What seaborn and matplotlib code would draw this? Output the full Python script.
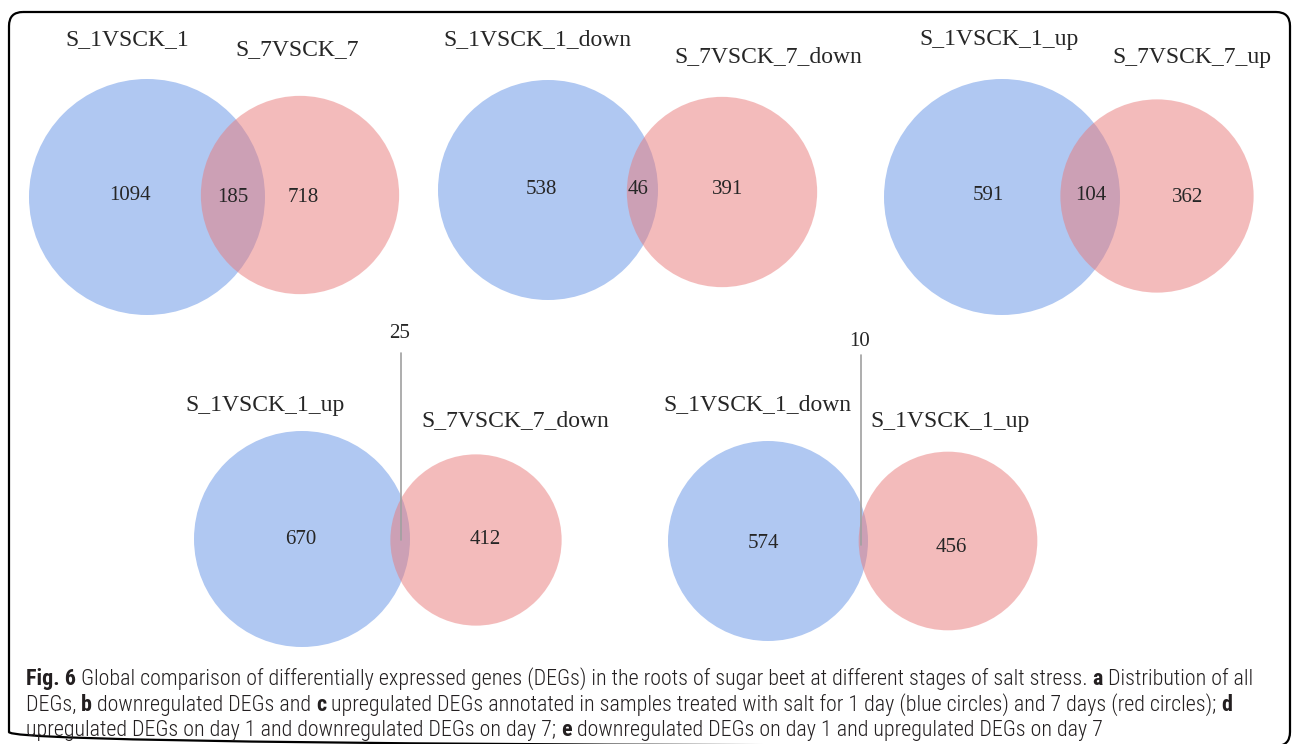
import matplotlib
matplotlib.use("Agg")
import numpy as np
import seaborn as sns
import matplotlib.pyplot as plt
from matplotlib.patches import Circle, FancyBboxPatch
from matplotlib import font_manager

# Venn counts: (only left, shared, only right)
left_names = ["S_1VSCK_1", "S_1VSCK_1_down", "S_1VSCK_1_up", "S_1VSCK_1_up", "S_1VSCK_1_down"]
right_names = ["S_7VSCK_7", "S_7VSCK_7_down", "S_7VSCK_7_up", "S_7VSCK_7_down", "S_1VSCK_1_up"]
only_left = [1094, 538, 591, 670, 574]
shared = [185, 46, 104, 25, 10]
only_right = [718, 391, 362, 412, 456]

caption_lines = [
    [("Fig. 6", True), (" Global comparison of differentially expressed genes (DEGs) in the roots of sugar beet "
                        "at different stages of salt stress. ", False), ("a", True), (" Distribution of all", False)],
    [("DEGs, ", False), ("b", True), (" downregulated DEGs and ", False), ("c", True),
     (" upregulated DEGs annotated in samples treated with salt for 1 day (blue circles) and 7 days (red circles); ",
      False), ("d", True)],
    [("upregulated DEGs on day 1 and downregulated DEGs on day 7; ", False), ("e", True),
     (" downregulated DEGs on day 1 and upregulated DEGs on day 7", False)],
]

# layout in figure pixels (y downwards)
blue_xy = [(147, 197), (548, 190), (1002, 197), (302, 539), (768, 541)]
red_xy = [(300, 195), (722, 192), (1157, 196), (476, 540), (948, 541)]
blue_r = [118, 110, 118, 108, 100]
left_lab_xy = [(127, 40), (537, 40), (999, 40), (265, 405), (757, 405)]
right_lab_xy = [(297, 50), (768, 57), (1192, 57), (515, 421), (950, 421)]
num_left_xy = [(130, 195), (541, 190), (988, 195), (301, 539), (763, 543)]
num_mid_xy = [(233, 197), (638, 189), (1091, 196), None, None]
num_right_xy = [(303, 197), (728, 189), (1188, 197), (485, 539), (951, 548)]
callout = {3: (401, 353, 540, 333), 4: (861, 355, 545, 341)}

sns.set_theme(style="white")
blue, red = sns.color_palette(["#b0c8f2", "#e97979"])

# caption font: a condensed sans with a regular and a bold weight
weights = {}
for f in font_manager.fontManager.ttflist:
    if f.style == "normal":
        weights.setdefault(f.name, set()).add(f.weight if isinstance(f.weight, int) else 400)
cap_font, reg_w, bold_w = "DejaVu Sans", "normal", "bold"
for name in ["Liberation Sans Narrow", "Roboto Condensed", "Open Sans"]:
    ws = weights.get(name, set())
    if any(w <= 400 for w in ws) and any(w >= 700 for w in ws):
        cap_font = name
        reg_w = 300 if 300 in ws and name == "Roboto Condensed" else "normal"
        break
serif = ["Liberation Serif", "DejaVu Serif"]

W, H = 1293, 744
fig = plt.figure(figsize=(W / 100, H / 100), dpi=100)
ax = fig.add_axes([0, 0, 1, 1])
ax.set_xlim(0, W)
ax.set_ylim(H, 0)
ax.axis("off")

frame = FancyBboxPatch((9, 12), 1281, 734, boxstyle="round,pad=0,rounding_size=14",
                       fill=False, ec="black", lw=1.6, clip_on=True)
ax.add_patch(frame)

for i in range(5):
    total_l = only_left[i] + shared[i]
    total_r = only_right[i] + shared[i]
    # area-proportional circles
    scale = blue_r[i] / np.sqrt(total_l)
    ax.add_patch(Circle(blue_xy[i], scale * np.sqrt(total_l), color=blue, lw=0))
    ax.add_patch(Circle(red_xy[i], scale * np.sqrt(total_r), color=red, alpha=0.5, lw=0))

    ax.text(*left_lab_xy[i], left_names[i], family=serif, fontsize=17, ha="center", va="center")
    ax.text(*right_lab_xy[i], right_names[i], family=serif, fontsize=17, ha="center", va="center")
    ax.text(*num_left_xy[i], str(only_left[i]), family=serif, fontsize=15, ha="center", va="center")
    ax.text(*num_right_xy[i], str(only_right[i]), family=serif, fontsize=15, ha="center", va="center")
    if num_mid_xy[i] is not None:
        ax.text(*num_mid_xy[i], str(shared[i]), family=serif, fontsize=15, ha="center", va="center")
    else:
        x, y0, y1, ty = callout[i]
        ax.plot([x, x], [y0, y1], color="#a0a0a0", lw=1.2)
        ax.text(x - 1, ty, str(shared[i]), family=serif, fontsize=15, ha="center", va="center")


def rich_line(x, y, parts, size):
    texts = []
    prev = None
    for s, bold in parts:
        kw = dict(family=cap_font, fontsize=size, color="#231f20",
                  fontweight=bold_w if bold else reg_w)
        if prev is None:
            t = ax.text(x, y, s, ha="left", va="baseline", **kw)
        else:
            t = ax.annotate(s, xy=(1, 0), xycoords=prev, ha="left", va="bottom", **kw)
        texts.append(t)
        prev = t
    return texts


# fit the first caption line to its width in the reference
renderer = fig.canvas.get_renderer()
probe = rich_line(26, 685, caption_lines[0], 12)
fig.canvas.draw()
x_end = max(ax.transData.inverted().transform(t.get_window_extent(renderer).get_points())[1, 0] for t in probe)
for t in probe:
    t.remove()
cap_size = 12 * (1256 - 26) / (x_end - 26)

for line, y in zip(caption_lines, [685, 711, 736]):
    rich_line(26, y, line, cap_size)

fig.savefig("out.png", dpi=100)
